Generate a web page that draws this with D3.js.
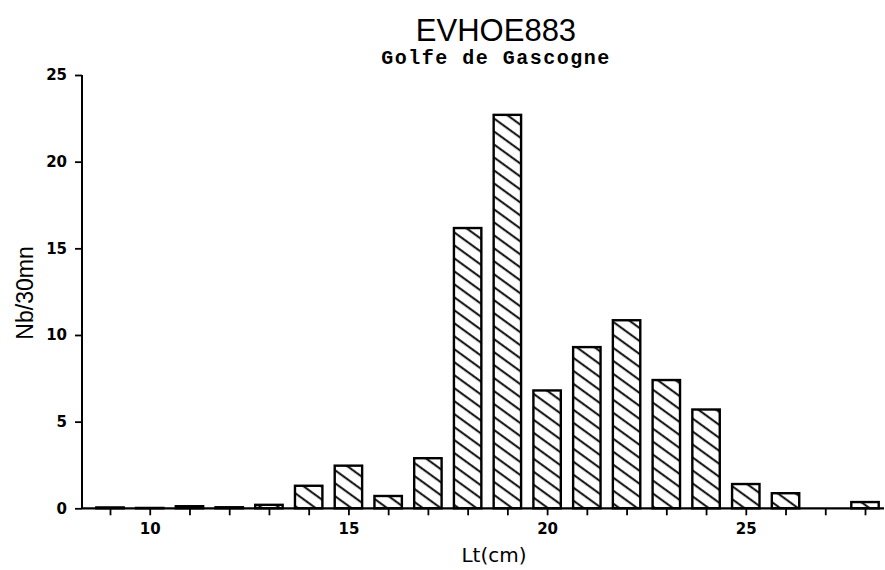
<!DOCTYPE html>
<html>
<head>
<meta charset="utf-8">
<script src="https://cdn.jsdelivr.net/npm/d3@7/dist/d3.min.js"></script>
<style>
  html, body { margin: 0; padding: 0; background: #fff; }
  svg { display: block; }
</style>
</head>
<body>
<svg id="chart" width="885" height="570"></svg>
<script>
// ---- data ----
const lengths = [9, 10, 11, 12, 13, 14, 15, 16, 17, 18, 19, 20, 21, 22, 23, 24, 25, 26, 27, 28];
const counts  = [0.05, 0.02, 0.12, 0.06, 0.2, 1.3, 2.46, 0.71, 2.89, 16.17, 22.7, 6.8, 9.3, 10.85, 7.4, 5.7, 1.4, 0.87, 0, 0.36];
const yTicks = [0, 5, 10, 15, 20, 25];
const xTickLabels = [10, 15, 20, 25];
const titleText = "EVHOE883";
const subtitleText = "Golfe de Gascogne";
const xLabel = "Lt(cm)";
const yLabel = "Nb/30mn";

const svg = d3.select("#chart");

// hatch pattern
const defs = svg.append("defs");
const pat = defs.append("pattern")
  .attr("id", "hatch")
  .attr("patternUnits", "userSpaceOnUse")
  .attr("width", 40).attr("height", 10.5)
  .attr("patternTransform", "rotate(36)");
pat.append("line")
  .attr("x1", 0).attr("x2", 40).attr("y1", 5).attr("y2", 5)
  .attr("stroke", "#000").attr("stroke-width", 1.8);

const x = d3.scaleLinear().domain([9, 28]).range([110, 865]);
const y = d3.scaleLinear().domain([0, 25]).range([508.3, 75]);
const barW = (x(1) - x(0)) * 0.69;

// bars
svg.append("g").selectAll("rect")
  .data(lengths.map((l, i) => ({l, v: counts[i]})).filter(d => d.v > 0))
  .join("rect")
  .attr("x", d => x(d.l) - barW / 2)
  .attr("width", barW)
  .attr("y", d => y(d.v))
  .attr("height", d => y(0) - y(d.v))
  .attr("fill", "url(#hatch)")
  .attr("stroke", "#000")
  .attr("stroke-width", 2.4);

// x axis
const xAxis = d3.axisBottom(x)
  .tickValues(lengths)
  .tickSize(7)
  .tickPadding(8)
  .tickFormat(d => xTickLabels.includes(d) ? d : "");
const gx = svg.append("g").attr("transform", `translate(0,${y(0)})`).call(xAxis);
gx.select(".domain").attr("d", `M82,0H884`).attr("stroke-width", 2.2);
gx.selectAll(".tick line").attr("stroke-width", 1.8);
gx.selectAll("text")
  .attr("font-family", "DejaVu Sans, sans-serif")
  .attr("font-weight", "bold")
  .attr("font-size", 15)
  .attr("fill", "#000");

// y axis
const yAxis = d3.axisLeft(y).tickValues(yTicks).tickSize(7).tickPadding(8);
const gy = svg.append("g").attr("transform", "translate(82,0)").call(yAxis);
gy.select(".domain").attr("d", `M0,${y(25)}V${y(0)}`).attr("stroke-width", 2);
gy.selectAll(".tick line").attr("stroke-width", 1.8);
gy.selectAll("text")
  .attr("font-family", "DejaVu Sans, sans-serif")
  .attr("font-weight", "bold")
  .attr("font-size", 15)
  .attr("fill", "#000");

// titles
svg.append("text")
  .attr("x", 496).attr("y", 41)
  .attr("text-anchor", "middle")
  .attr("font-family", "Liberation Sans, Arial, sans-serif")
  .attr("font-size", 31)
  .text(titleText);

svg.append("text")
  .attr("x", 496).attr("y", 64)
  .attr("text-anchor", "middle")
  .attr("font-family", "Liberation Mono, monospace")
  .attr("font-weight", "bold")
  .attr("font-size", 20)
  .attr("letter-spacing", 1.5)
  .text(subtitleText);

svg.append("text")
  .attr("x", 494).attr("y", 562)
  .attr("text-anchor", "middle")
  .attr("font-family", "DejaVu Sans, sans-serif")
  .attr("font-size", 20)
  .text(xLabel);

svg.append("text")
  .attr("transform", "translate(33,293) rotate(-90)")
  .attr("text-anchor", "middle")
  .attr("font-family", "Liberation Sans, Arial, sans-serif")
  .attr("font-size", 23)
  .text(yLabel);
</script>
</body>
</html>
